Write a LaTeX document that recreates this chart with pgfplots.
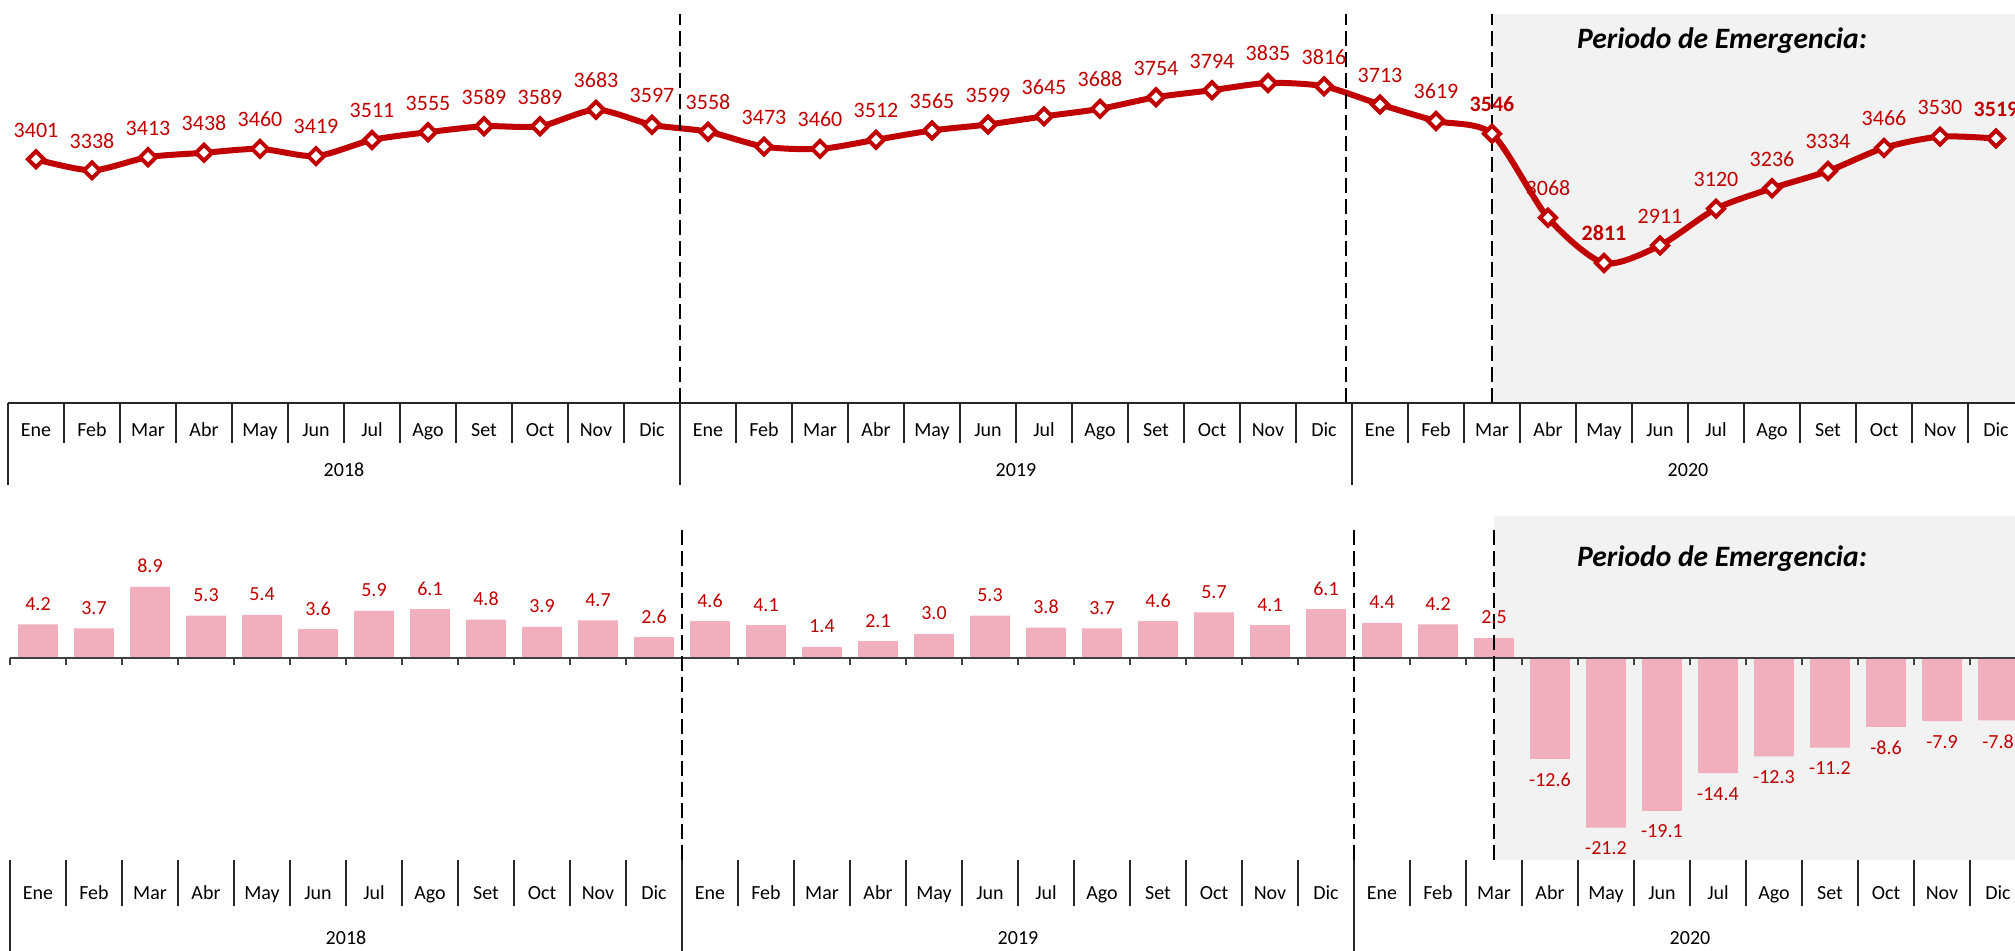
\documentclass[border=0pt]{standalone}
\usepackage{fontspec}
\setmainfont{Carlito}
\usepackage{pgfplots}
\pgfplotsset{compat=1.18}
\definecolor{dred}{HTML}{C00000}
\definecolor{pinkbar}{HTML}{F1AFBD}
\definecolor{bggray}{HTML}{F2F2F2}
\pgfplotsset{
  monthaxis/.style={
    scale only axis, width=1008pt, xmin=-0.5, xmax=35.5, clip=false,
    hide y axis, x axis line style={draw=none}, major tick length=0pt,
    xtick={0,...,35},
    xticklabels={Ene,Feb,Mar,Abr,May,Jun,Jul,Ago,Set,Oct,Nov,Dic,
                 Ene,Feb,Mar,Abr,May,Jun,Jul,Ago,Set,Oct,Nov,Dic,
                 Ene,Feb,Mar,Abr,May,Jun,Jul,Ago,Set,Oct,Nov,Dic},
    extra x ticks={5.5,17.5,29.5},
    extra x tick labels={2018,2019,2020},
    xticklabel style={font=\fontsize{10}{12}\selectfont, anchor=base, inner sep=0pt},
  }
}
\begin{document}
\begin{tikzpicture}
\path[use as bounding box] (0,0) rectangle (1007.5pt,475pt);
% ---------- top panel ----------
\begin{axis}[monthaxis, at={(4pt,273.5pt)}, anchor=south west,
  height=194.5pt, ymin=2014.5, ymax=4227.5,
  xticklabel style={yshift=-16.7pt},
  extra x tick style={xticklabel style={yshift=-20pt}}]
\fill[bggray] (axis cs:26,2014.5) rectangle (axis cs:35.5,4227.5);
\addplot[dred, line width=3pt, smooth, tension=0.45,
  mark=square*, mark size=2.83pt,
  mark options={rotate=45, fill=white, draw=dred, line width=2pt},
  nodes near coords, point meta=explicit symbolic,
  every node near coord/.append style={font=\fontsize{11}{13}\selectfont, text=dred, inner sep=10pt}]
coordinates {
(0,3401)[3401] (1,3338)[3338] (2,3413)[3413] (3,3438)[3438] (4,3460)[3460] (5,3419)[3419]
(6,3511)[3511] (7,3555)[3555] (8,3589)[3589] (9,3589)[3589] (10,3683)[3683] (11,3597)[3597]
(12,3558)[3558] (13,3473)[3473] (14,3460)[3460] (15,3512)[3512] (16,3565)[3565] (17,3599)[3599]
(18,3645)[3645] (19,3688)[3688] (20,3754)[3754] (21,3794)[3794] (22,3835)[3835] (23,3816)[3816]
(24,3713)[3713] (25,3619)[3619] (26,3546)[\textbf{3546}] (27,3068)[3068] (28,2811)[\textbf{2811}] (29,2911)[2911]
(30,3120)[3120] (31,3236)[3236] (32,3334)[3334] (33,3466)[3466] (34,3530)[3530] (35,3519)[\textbf{3519}]
};
\draw[black, line width=1pt, dash pattern=on 7.5pt off 3pt] (axis cs:11.5,2014.5) -- (axis cs:11.5,4227.5);
\draw[black, line width=1pt, dash pattern=on 7.5pt off 3pt] (axis cs:23.4,2014.5) -- (axis cs:23.4,4227.5);
\draw[black, line width=1pt, dash pattern=on 7.5pt off 3pt] (axis cs:26,2014.5) -- (axis cs:26,4227.5);
\draw[black!85, line width=1pt] (axis cs:-0.5,2014.5) -- (axis cs:35.5,2014.5);
\pgfplotsinvokeforeach{0.5,1.5,...,34.5}{\draw[black!85, line width=0.9pt] (axis cs:#1,2014.5) -- ++(0pt,-20pt);}
\pgfplotsinvokeforeach{-0.5,11.5,23.5}{\draw[black!85, line width=0.9pt] (axis cs:#1,2014.5) -- ++(0pt,-41pt);}
\end{axis}
\node[font=\fontsize{14.8}{17}\selectfont\bfseries\itshape] at (861pt,454.5pt) {Periodo de Emergencia:};
% ---------- bottom panel ----------
\begin{axis}[monthaxis, at={(5pt,45pt)}, anchor=south west,
  height=172pt, ymin=-25.25, ymax=17.75,
  xticklabel style={yshift=-19.7pt},
  extra x tick style={xticklabel style={yshift=-22.5pt}}]
\fill[bggray] (axis cs:26,-25.25) rectangle (axis cs:35.5,17.75);
\addplot[ybar, bar width=0.714, bar shift=0pt, fill=pinkbar, draw=none,
  nodes near coords, point meta=explicit symbolic,
  every node near coord/.append style={font=\fontsize{10}{12}\selectfont, text=dred, inner sep=6.8pt, anchor=south}]
coordinates {
(0,4.2)[4.2] (1,3.7)[3.7] (2,8.9)[8.9] (3,5.3)[5.3] (4,5.4)[5.4] (5,3.6)[3.6]
(6,5.9)[5.9] (7,6.1)[6.1] (8,4.8)[4.8] (9,3.9)[3.9] (10,4.7)[4.7] (11,2.6)[2.6]
(12,4.6)[4.6] (13,4.1)[4.1] (14,1.4)[1.4] (15,2.1)[2.1] (16,3.0)[3.0] (17,5.3)[5.3]
(18,3.8)[3.8] (19,3.7)[3.7] (20,4.6)[4.6] (21,5.7)[5.7] (22,4.1)[4.1] (23,6.1)[6.1]
(24,4.4)[4.4] (25,4.2)[4.2] (26,2.5)[2.5]
};
\addplot[ybar, bar width=0.714, bar shift=0pt, fill=pinkbar, draw=none,
  nodes near coords, point meta=explicit symbolic,
  every node near coord/.append style={font=\fontsize{10}{12}\selectfont, text=dred, inner sep=6.8pt, anchor=north}]
coordinates {
(27,-12.6)[-12.6] (28,-21.2)[-21.2] (29,-19.1)[-19.1] (30,-14.4)[-14.4] (31,-12.3)[-12.3]
(32,-11.2)[-11.2] (33,-8.6)[-8.6] (34,-7.9)[-7.9] (35,-7.8)[-7.8]
};
\draw[black!75, line width=1pt] (axis cs:-0.5,0) -- (axis cs:35.5,0);
\pgfplotsinvokeforeach{-0.5,0.5,...,35.5}{\draw[black!75, line width=0.8pt] (axis cs:#1,0) -- ++(0pt,-3.5pt);}
\draw[black, line width=1pt, dash pattern=on 7.5pt off 3pt] (axis cs:11.5,-25.25) -- (axis cs:11.5,16.1);
\draw[black, line width=1pt, dash pattern=on 7.5pt off 3pt] (axis cs:23.5,-25.25) -- (axis cs:23.5,16.1);
\draw[black, line width=1pt, dash pattern=on 7.5pt off 3pt] (axis cs:26,-25.25) -- (axis cs:26,16.1);
\pgfplotsinvokeforeach{0.5,1.5,...,34.5}{\draw[black!85, line width=0.9pt] (axis cs:#1,-25.25) -- ++(0pt,-23pt);}
\pgfplotsinvokeforeach{-0.5,11.5,23.5}{\draw[black!85, line width=0.9pt] (axis cs:#1,-25.25) -- ++(0pt,-50pt);}
\end{axis}
\node[font=\fontsize{14.8}{17}\selectfont\bfseries\itshape] at (861pt,195.5pt) {Periodo de Emergencia:};
\end{tikzpicture}
\end{document}
